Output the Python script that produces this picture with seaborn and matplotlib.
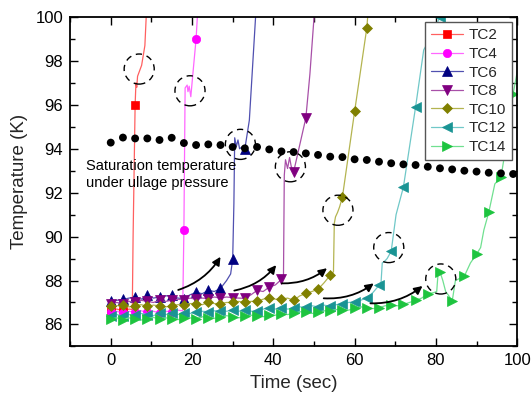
import numpy as np
import matplotlib
matplotlib.use("Agg")
import matplotlib.pyplot as plt
import seaborn as sns
from matplotlib.patches import Ellipse
from matplotlib.ticker import MultipleLocator

# ------------------------------------------
# data (time in s, temperature in K)
# ------------------------------------------

tc2_t = [0, 1.5, 3, 4.5, 5.3, 5.5, 6, 6.2, 6.4, 6.6, 7.6, 8.4, 8.8]
tc2_T = [86.65, 86.7, 86.62, 86.7, 86.68, 90.0, 96.0, 97.0, 96.8, 97.3, 97.8, 98.7, 100.3]

tc4_t = [0, 1.5, 3, 4.5, 6, 7.5, 9, 10.5, 12, 13.5, 15, 16.5, 17.7, 18, 18.3,
         18.8, 19.0, 19.3, 19.7, 20.3, 21, 21.4]
tc4_T = [86.55, 86.6, 86.5, 86.6, 86.55, 86.62, 86.55, 86.6, 86.52, 86.6, 86.58,
         86.65, 86.62, 90.3, 96.77, 96.9, 96.6, 96.85, 96.37, 97.6, 99.0, 100.3]

tc6_t = [0, 1.5, 3, 4.5, 6, 7.5, 9, 10.5, 12, 13.5, 15, 16.5, 18, 19.5, 21, 22.5,
         24, 25.5, 27, 28.5, 29.5, 30, 30.3, 30.5, 30.9, 31.3, 31.7, 32.4, 33,
         34.1, 35.7]
tc6_T = [87.06, 87.1, 87.14, 87.2, 87.25, 87.15, 87.32, 87.2, 87.25, 87.3, 87.32,
         87.2, 87.18, 87.35, 87.46, 87.4, 87.55, 87.5, 87.64, 88.0, 88.3, 88.96,
         91.5, 94.5, 94.1, 94.4, 94.0, 94.1, 94.0, 95.3, 100.2]

tc8_t = [0, 1.5, 3, 4.5, 6, 7.5, 9, 10.5, 12, 13.5, 15, 16.5, 18, 19.5, 21, 22.5,
         24, 25.5, 27, 28.5, 30, 31.5, 33, 34.5, 36, 37.5, 39, 40.5, 42, 42.5,
         42.7, 43.0, 43.5, 44.0, 44.4, 45, 48, 49, 50.1]
tc8_T = [86.95, 87.0, 86.95, 87.05, 87.0, 87.1, 87.05, 87.0, 87.1, 87.05, 87.1,
         87.15, 87.12, 87.2, 87.15, 87.2, 87.18, 87.25, 87.2, 87.25, 87.22, 87.2,
         87.19, 87.35, 87.55, 87.5, 87.7, 87.8, 88.05, 88.2, 92.8, 93.5, 93.1,
         93.6, 93.2, 92.95, 95.4, 97.4, 100.2]

tc10_t = [0, 1.5, 3, 4.5, 6, 7.5, 9, 10.5, 12, 13.5, 15, 16.5, 18, 19.5, 21, 22.5,
          24, 25.5, 27, 28.5, 30, 31.5, 33, 34.5, 36, 37.5, 39, 40.5, 42, 43.5,
          45, 46.5, 48, 49.5, 51, 52.5, 54, 54.8, 55.0, 55.3, 55.8, 56.3, 57, 60,
          63, 63.3]
tc10_T = [86.82, 86.85, 86.87, 86.8, 86.85, 86.9, 86.82, 86.88, 86.85, 86.8, 86.85,
          86.9, 86.9, 86.95, 86.95, 86.9, 87.0, 86.95, 86.95, 87.0, 87.0, 87.05,
          87.0, 87.05, 87.05, 87.15, 87.22, 87.15, 87.15, 87.2, 87.1, 87.3, 87.41,
          87.5, 87.6, 87.9, 88.24, 88.4, 90.6, 90.9, 91.1, 91.35, 91.8, 95.7,
          99.5, 100.2]

tc12_t = [0, 1.5, 3, 4.5, 6, 7.5, 9, 10.5, 12, 13.5, 15, 16.5, 18, 19.5, 21, 22.5,
          24, 25.5, 27, 28.5, 30, 31.5, 33, 34.5, 36, 37.5, 39, 40.5, 42, 43.5,
          45, 46.5, 48, 49.5, 51, 52.5, 54, 55.5, 57, 58.5, 60, 61.5, 63, 64.5,
          66, 66.5, 66.8, 67.5, 68.0, 69, 70.2, 72, 75, 77, 78.5, 81]
tc12_T = [86.4, 86.45, 86.38, 86.45, 86.42, 86.5, 86.45, 86.4, 86.5, 86.45, 86.5,
          86.45, 86.52, 86.5, 86.55, 86.6, 86.58, 86.62, 86.62, 86.6, 86.65, 86.6,
          86.65, 86.6, 86.62, 86.7, 86.75, 86.7, 86.75, 86.7, 86.73, 86.8, 86.78,
          86.85, 86.8, 86.88, 86.82, 86.9, 86.95, 87.0, 87.02, 87.1, 87.22, 87.45,
          87.78, 87.9, 88.8, 88.9, 89.0, 89.33, 91.0, 92.25, 95.9, 98.5, 99.0,
          100.0]

tc14_t = [0, 1.5, 3, 4.5, 6, 7.5, 9, 10.5, 12, 13.5, 15, 16.5, 18, 19.5, 21, 22.5,
          24, 25.5, 27, 28.5, 30, 31.5, 33, 34.5, 36, 37.5, 39, 40.5, 42, 43.5,
          45, 46.5, 48, 49.5, 51, 52.5, 54, 55.5, 57, 58.5, 60, 61.5, 63, 64.5,
          66, 67.5, 69, 70.5, 72, 73.5, 75, 76.5, 78, 79.5, 80.2, 80.6, 81, 81.7,
          82.4, 83.2, 84, 84.8, 87, 88.5, 90, 91, 91.8, 93, 94.5, 96, 96.7, 98.2,
          99, 100.5]
tc14_T = [86.25, 86.3, 86.22, 86.3, 86.25, 86.2, 86.27, 86.32, 86.25, 86.3, 86.27,
          86.22, 86.28, 86.3, 86.25, 86.35, 86.3, 86.28, 86.32, 86.4, 86.35, 86.3,
          86.38, 86.42, 86.4, 86.35, 86.45, 86.42, 86.49, 86.45, 86.5, 86.58,
          86.55, 86.5, 86.55, 86.62, 86.62, 86.68, 86.68, 86.65, 86.73, 86.8,
          86.77, 86.72, 86.76, 86.85, 86.87, 86.85, 86.91, 87.0, 87.1, 87.2, 87.4,
          87.45, 87.5, 88.5, 88.4, 88.0, 87.5, 87.3, 87.05, 88.0, 88.2, 88.8,
          89.2, 89.5, 90.3, 91.1, 92.4, 92.7, 93.5, 95.5, 96.5, 98.0]

sat_t = [0, 3, 6, 9, 12, 15, 18, 21, 24, 27, 30, 33, 36, 39, 42, 45, 48, 51, 54,
         57, 60, 63, 66, 69, 72, 75, 78, 81, 84, 87, 90, 93, 96, 99]
sat_T = [94.28, 94.51, 94.47, 94.47, 94.40, 94.50, 94.26, 94.17, 94.20, 94.17,
         94.08, 94.02, 94.08, 93.97, 93.88, 93.85, 93.79, 93.72, 93.64, 93.62,
         93.52, 93.49, 93.41, 93.34, 93.29, 93.26, 93.18, 93.11, 93.06, 93.00,
         92.96, 92.91, 92.88, 92.85]

# dashed circles around the boiling jumps (centre time, centre temperature)
circle_t = [7.0, 19.5, 31.9, 44.2, 55.9, 68.4, 81.2]
circle_T = [97.63, 96.64, 94.2, 93.18, 91.2, 89.5, 88.07]

# curved arrows (start -> end)
arrow_start = [(16.6, 87.57), (30.4, 87.54), (42.1, 87.87), (52.4, 87.19), (63.9, 86.96)]
arrow_end = [(27.0, 89.08), (40.7, 88.7), (53.2, 88.56), (64.7, 87.87), (76.7, 87.75)]

# ==========================================
# PLOT
# ==========================================

sns.set_theme(style="ticks")
plt.rcParams['font.family'] = ['Liberation Sans', 'DejaVu Sans']

fig = plt.figure(figsize=(5.31, 4.0), dpi=100)
ax = fig.add_axes([0.132, 0.134, 0.842, 0.8235])

series = [
    ("TC2", tc2_t, tc2_T, "s", 5.5, "#FF0000", "#FF6060"),
    ("TC4", tc4_t, tc4_T, "o", 6.0, "#FF00FF", "#FF66FF"),
    ("TC6", tc6_t, tc6_T, "^", 7.0, "#000080", "#5050B0"),
    ("TC8", tc8_t, tc8_T, "v", 7.0, "#800080", "#A850A8"),
    ("TC10", tc10_t, tc10_T, "D", 5.5, "#808000", "#B4B450"),
    ("TC12", tc12_t, tc12_T, "<", 7.0, "#1A9494", "#70C8C8"),
    ("TC14", tc14_t, tc14_T, ">", 7.0, "#1DC43F", "#70E090"),
]

for name, t, T, mk, ms, c, lc in series:
    t = np.array(t, dtype=float)
    r = np.mod(t, 3)
    mk_idx = list(np.where(np.isclose(r, 0) | np.isclose(r, 3))[0])
    sns.lineplot(
        x=t,
        y=T,
        ax=ax,
        sort=False,
        estimator=None,
        color=lc,
        linewidth=0.9,
        marker=mk,
        markersize=ms,
        markerfacecolor=c,
        markeredgecolor=c,
        markeredgewidth=0.5,
        markevery=mk_idx,
        label=name
    )

sns.scatterplot(
    x=sat_t,
    y=sat_T,
    ax=ax,
    color="black",
    s=32,
    edgecolor="none",
    zorder=5
)

for ct, cT in zip(circle_t, circle_T):
    ax.add_patch(Ellipse((ct, cT), width=7.4, height=1.37, fill=False,
                         edgecolor="black", linewidth=1.0,
                         linestyle=(0, (4.5, 3.5)), zorder=6))

for s, e in zip(arrow_start, arrow_end):
    ax.annotate("", xy=e, xytext=s,
                arrowprops=dict(arrowstyle="-|>", color="black", lw=1.3,
                                mutation_scale=12,
                                connectionstyle="arc3,rad=0.18",
                                shrinkA=0, shrinkB=0),
                zorder=6)

ax.text(-6.1, 92.83, "Saturation temperature\nunder ullage pressure",
        ha="left", va="center", fontsize=10.5, linespacing=1.2, color="black")

ax.set_xlim(-10, 100)
ax.set_ylim(85, 100)
ax.xaxis.set_major_locator(MultipleLocator(20))
ax.xaxis.set_minor_locator(MultipleLocator(10))
ax.yaxis.set_major_locator(MultipleLocator(2))
ax.yaxis.set_minor_locator(MultipleLocator(1))

ax.tick_params(which="both", direction="in", top=True, right=True,
               colors="black", labelsize=12, width=1.0, pad=5)
ax.tick_params(which="major", length=6)
ax.tick_params(which="minor", length=3.5)

for sp in ax.spines.values():
    sp.set_linewidth(1.3)
    sp.set_color("black")

ax.set_xlabel("Time (sec)", fontsize=13.5, labelpad=5)
ax.set_ylabel("Temperature (K)", fontsize=13.5, labelpad=5)

ax.legend(
    loc="upper right",
    fontsize=11,
    frameon=True,
    fancybox=False,
    framealpha=1,
    edgecolor="#555555",
    handlelength=2.1,
    handletextpad=0.35,
    labelspacing=0.3,
    borderpad=0.4,
    borderaxespad=0.35
)

fig.savefig("out.png", dpi=100)
